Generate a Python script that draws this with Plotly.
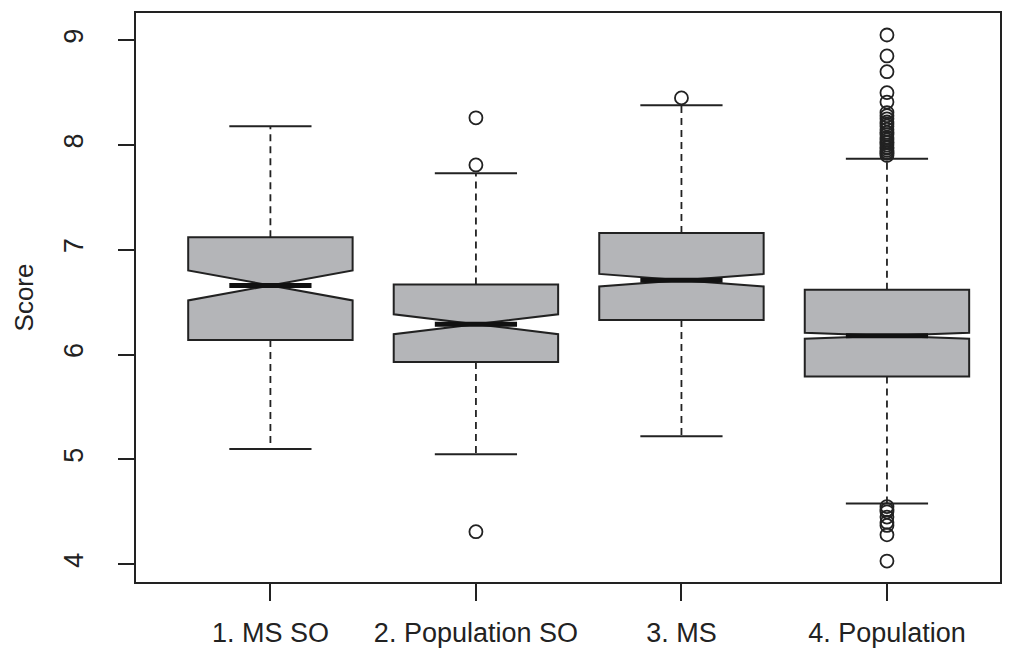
import plotly.graph_objects as go

# ---- data ----
groups = ["1. MS SO", "2. Population SO", "3. MS", "4. Population"]
positions = [1, 2, 3, 4]
q1 = [6.14, 5.93, 6.33, 5.79]
median = [6.66, 6.29, 6.71, 6.18]
q3 = [7.12, 6.67, 7.16, 6.62]
whisker_lo = [5.10, 5.05, 5.22, 4.58]
whisker_hi = [8.18, 7.73, 8.38, 7.87]
notch_span = [0.143, 0.095, 0.06, 0.028]
outliers = [
    [],
    [8.26, 7.81, 4.31],
    [8.45],
    [9.05, 8.85, 8.70, 8.50, 8.41, 8.31, 8.28, 8.25, 8.22, 8.20, 8.18, 8.15,
     8.12, 8.10, 8.07, 8.05, 8.03, 8.02, 8.00, 7.98, 7.97, 7.95, 7.93, 7.92,
     7.90, 4.55, 4.52, 4.50, 4.45, 4.40, 4.37, 4.28, 4.03],
]
y_ticks = [4, 5, 6, 7, 8, 9]

# ---- style ----
BOX_W = 0.8
CAP_W = 0.4
LINE = "#222222"
FILL = "#b4b5b8"
FONT = "Liberation Sans, Arial, Helvetica, sans-serif"

fig = go.Figure()

# whiskers (dashed) and caps
for i, p in enumerate(positions):
    fig.add_trace(go.Scatter(x=[p, p], y=[q3[i], whisker_hi[i]], mode="lines",
                             line=dict(color=LINE, width=1.8, dash="7px,5px"),
                             showlegend=False, hoverinfo="skip"))
    fig.add_trace(go.Scatter(x=[p, p], y=[q1[i], whisker_lo[i]], mode="lines",
                             line=dict(color=LINE, width=1.8, dash="7px,5px"),
                             showlegend=False, hoverinfo="skip"))
    for w in (whisker_hi[i], whisker_lo[i]):
        fig.add_trace(go.Scatter(x=[p - CAP_W / 2, p + CAP_W / 2], y=[w, w], mode="lines",
                                 line=dict(color=LINE, width=2),
                                 showlegend=False, hoverinfo="skip"))

# notched boxes
fig.add_trace(go.Box(
    x=positions, q1=q1, median=median, q3=q3,
    lowerfence=q1, upperfence=q3,
    notched=True, notchspan=notch_span, notchwidth=0.5,
    width=BOX_W, whiskerwidth=0,
    fillcolor=FILL, line=dict(color=LINE, width=2),
    boxpoints=False, showlegend=False, hoverinfo="skip",
))

# thick medians
for i, p in enumerate(positions):
    fig.add_trace(go.Scatter(x=[p - BOX_W / 4, p + BOX_W / 4], y=[median[i], median[i]],
                             mode="lines", line=dict(color="#111111", width=5),
                             showlegend=False, hoverinfo="skip"))

# outliers
for i, p in enumerate(positions):
    if outliers[i]:
        fig.add_trace(go.Scatter(x=[p] * len(outliers[i]), y=outliers[i], mode="markers",
                                 marker=dict(symbol="circle-open", size=13,
                                             color=LINE, line=dict(width=1.8)),
                                 showlegend=False, hoverinfo="skip"))

fig.update_layout(
    width=1010, height=648,
    margin=dict(l=136, r=10, t=13, b=66),
    paper_bgcolor="white", plot_bgcolor="white",
    font=dict(family=FONT, size=27, color=LINE),
    xaxis=dict(range=[0.346, 4.55], tickmode="array", tickvals=positions, ticktext=groups,
               ticks="outside", ticklen=17, tickwidth=1.8, tickcolor=LINE,
               showline=True, linecolor=LINE, linewidth=1.8, mirror=True,
               showgrid=False, zeroline=False, ticklabelstandoff=9, automargin=False),
    yaxis=dict(range=[3.83, 9.26], tickmode="array", tickvals=y_ticks,
               ticktext=[str(t) for t in y_ticks], tickangle=-90,
               ticks="outside", ticklen=16, tickwidth=1.8, tickcolor=LINE,
               showline=True, linecolor=LINE, linewidth=1.8, mirror=True,
               showgrid=False, zeroline=False, ticklabelstandoff=24, automargin=False,
               title=dict(text="Score", standoff=18, font=dict(size=26))),
)

fig.write_html("out.html")
